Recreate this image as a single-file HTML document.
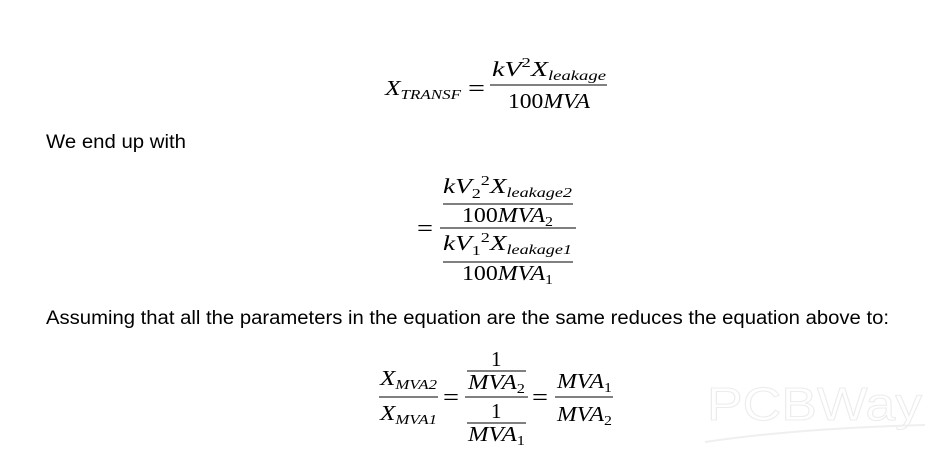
<!DOCTYPE html>
<html><head><meta charset="utf-8"><style>
html,body{margin:0;padding:0;background:#fff;}
svg{display:block;}
.m{font-family:"Liberation Serif",serif;font-style:italic;font-size:21px;fill:#000;}
.n{font-style:normal;}
.s{font-size:14px;}
.e{font-family:"Liberation Serif",serif;font-size:24px;fill:#000;}
.t{font-family:"Liberation Sans",sans-serif;font-size:19px;fill:#000;}
</style></head><body>
<svg width="945" height="455" viewBox="0 0 945 455" xmlns="http://www.w3.org/2000/svg">
<!-- Eq1 -->
<text class="m" x="385" y="95" textLength="76" lengthAdjust="spacingAndGlyphs">X<tspan class="s" dy="4">TRANSF</tspan></text>
<text class="e" x="468" y="96" textLength="17" lengthAdjust="spacingAndGlyphs">=</text>
<line x1="490" y1="85" x2="607" y2="85" stroke="#000" stroke-width="1"/>
<text class="m" x="492" y="76" textLength="114" lengthAdjust="spacingAndGlyphs">kV<tspan class="s n" dy="-9">2</tspan><tspan dy="9">X</tspan><tspan class="s" dy="4">leakage</tspan></text>
<text class="m" x="508" y="108" textLength="82" lengthAdjust="spacingAndGlyphs"><tspan class="n">100</tspan>MVA</text>

<text class="t" x="46" y="148" textLength="140" lengthAdjust="spacingAndGlyphs">We end up with</text>

<!-- Eq2 -->
<text class="e" x="417" y="236" textLength="16" lengthAdjust="spacingAndGlyphs">=</text>
<line x1="440" y1="228" x2="576" y2="228" stroke="#000" stroke-width="1"/>
<text class="m" x="443" y="193" textLength="129" lengthAdjust="spacingAndGlyphs">kV<tspan class="s n" dy="5">2</tspan><tspan class="s n" dy="-13">2</tspan><tspan dy="8">X</tspan><tspan class="s" dy="4">leakage2</tspan></text>
<line x1="443" y1="204" x2="573" y2="204" stroke="#000" stroke-width="1"/>
<text class="m" x="462" y="222" textLength="91" lengthAdjust="spacingAndGlyphs"><tspan class="n">100</tspan>MVA<tspan class="s n" dy="4">2</tspan></text>
<text class="m" x="443" y="250" textLength="129" lengthAdjust="spacingAndGlyphs">kV<tspan class="s n" dy="5">1</tspan><tspan class="s n" dy="-13">2</tspan><tspan dy="8">X</tspan><tspan class="s" dy="4">leakage1</tspan></text>
<line x1="443" y1="262" x2="573" y2="262" stroke="#000" stroke-width="1"/>
<text class="m" x="462" y="280" textLength="91" lengthAdjust="spacingAndGlyphs"><tspan class="n">100</tspan>MVA<tspan class="s n" dy="4">1</tspan></text>

<text class="t" x="46" y="324" textLength="843" lengthAdjust="spacingAndGlyphs">Assuming that all the parameters in the equation are the same reduces the equation above to:</text>

<!-- Eq3 -->
<text class="m" x="380" y="385" textLength="57" lengthAdjust="spacingAndGlyphs">X<tspan class="s" dy="4">MVA2</tspan></text>
<line x1="379" y1="397" x2="438" y2="397" stroke="#000" stroke-width="1"/>
<text class="m" x="380" y="420" textLength="57" lengthAdjust="spacingAndGlyphs">X<tspan class="s" dy="4">MVA1</tspan></text>
<text class="e" x="443" y="405" textLength="16" lengthAdjust="spacingAndGlyphs">=</text>
<text class="m n" x="491" y="366">1</text>
<line x1="467" y1="371" x2="526" y2="371" stroke="#000" stroke-width="1"/>
<text class="m" x="468" y="389" textLength="57" lengthAdjust="spacingAndGlyphs">MVA<tspan class="s n" dy="4">2</tspan></text>
<line x1="465" y1="397" x2="528" y2="397" stroke="#000" stroke-width="1"/>
<text class="m n" x="491" y="418">1</text>
<line x1="467" y1="423" x2="526" y2="423" stroke="#000" stroke-width="1"/>
<text class="m" x="468" y="441" textLength="57" lengthAdjust="spacingAndGlyphs">MVA<tspan class="s n" dy="4">1</tspan></text>
<text class="e" x="532" y="405" textLength="16" lengthAdjust="spacingAndGlyphs">=</text>
<text class="m" x="557" y="388" textLength="55" lengthAdjust="spacingAndGlyphs">MVA<tspan class="s n" dy="4">1</tspan></text>
<line x1="555" y1="397" x2="613" y2="397" stroke="#000" stroke-width="1"/>
<text class="m" x="557" y="421" textLength="55" lengthAdjust="spacingAndGlyphs">MVA<tspan class="s n" dy="4">2</tspan></text>

<!-- watermark -->
<text x="707" y="420" font-family="Liberation Sans,sans-serif" font-size="46" fill="none" stroke="#ececec" stroke-width="1" textLength="215" lengthAdjust="spacingAndGlyphs">PCBWay</text>
<path d="M705 442 Q800 428 925 425" fill="none" stroke="#efefef" stroke-width="2"/>
</svg>
</body></html>
